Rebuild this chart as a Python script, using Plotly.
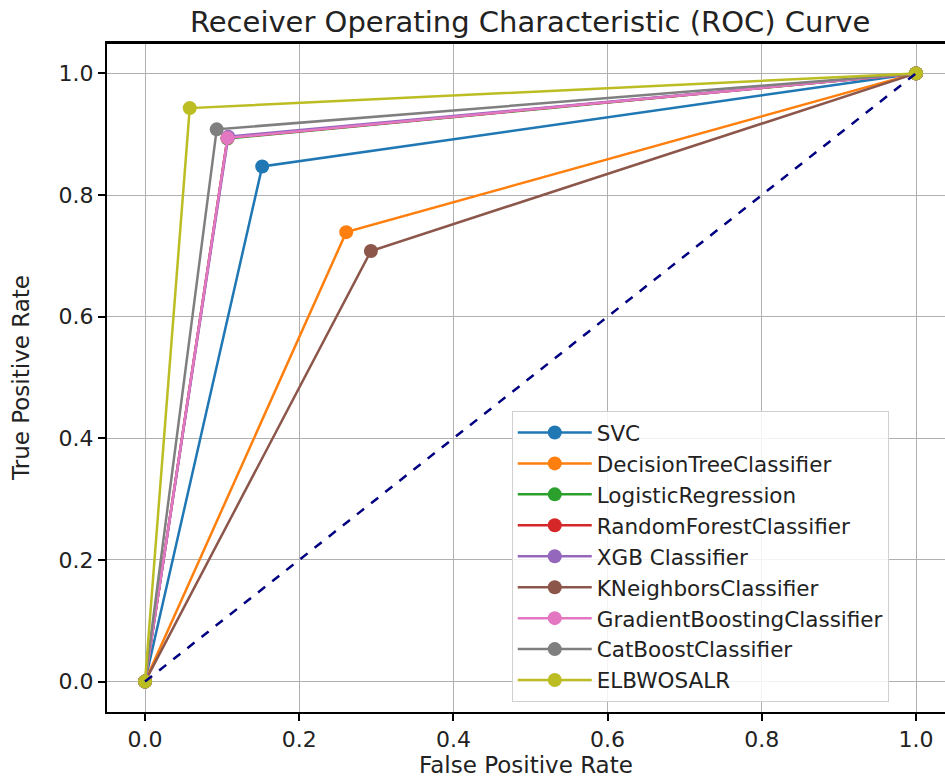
import plotly.graph_objects as go

models = ["SVC", "DecisionTreeClassifier", "LogisticRegression", "RandomForestClassifier",
          "XGB Classifier", "KNeighborsClassifier", "GradientBoostingClassifier",
          "CatBoostClassifier", "ELBWOSALR"]
colors = ["#1f77b4", "#ff7f0e", "#2ca02c", "#d62728", "#9467bd",
          "#8c564b", "#e377c2", "#7f7f7f", "#bcbd22"]
fpr_mid = [0.152, 0.261, 0.107, 0.107, 0.108, 0.293, 0.107, 0.093, 0.058]
tpr_mid = [0.847, 0.739, 0.893, 0.894, 0.896, 0.708, 0.894, 0.908, 0.943]
diag_x = [0, 1]
diag_y = [0, 1]
ticks = [0.0, 0.2, 0.4, 0.6, 0.8, 1.0]

fig = go.Figure()
for name, c, fx, ty in zip(models, colors, fpr_mid, tpr_mid):
    fig.add_trace(go.Scatter(
        x=[0, fx, 1], y=[0, ty, 1], mode="lines+markers", name=name,
        line=dict(color=c, width=2.5), marker=dict(color=c, size=14)))
fig.add_trace(go.Scatter(x=diag_x, y=diag_y, mode="lines", showlegend=False,
                         line=dict(color="navy", width=2.5, dash="dash")))

W, H = 945, 778
fig.update_layout(
    width=W, height=H,
    margin=dict(l=107, r=0, t=43, b=66),
    paper_bgcolor="white", plot_bgcolor="white",
    font=dict(family="DejaVu Sans", color="black"),
    title=dict(text="Receiver Operating Characteristic (ROC) Curve",
               x=0.561, xanchor="center", y=0.972, yanchor="middle",
               font=dict(size=29, color="#222")),
    legend=dict(x=0.483, y=0.015, xanchor="left", yanchor="bottom",
                bgcolor="rgba(255,255,255,0.85)", bordercolor="#d0d0d0", borderwidth=1,
                font=dict(size=21.5, color="#222"), tracegroupgap=0, itemwidth=74),
    showlegend=True,
)
fig.update_xaxes(range=[-0.0493, 1.0376], tickvals=ticks, tickformat=".1f",
                 showgrid=True, gridcolor="#b0b0b0", gridwidth=1, zeroline=False,
                 showline=True, linecolor="black", linewidth=2, mirror=True,
                 ticks="outside", ticklen=7, tickcolor="black", tickwidth=1.5,
                 tickfont=dict(size=22, color="#222"),
                 title=dict(text="False Positive Rate", font=dict(size=23, color="#222"), standoff=2))
fig.update_yaxes(range=[-0.05, 1.05], tickvals=ticks, tickformat=".1f",
                 showgrid=True, gridcolor="#b0b0b0", gridwidth=1, zeroline=False,
                 showline=True, linecolor="black", linewidth=2, mirror=False,
                 ticks="outside", ticklen=7, tickcolor="black", tickwidth=1.5,
                 tickfont=dict(size=22, color="#222"),
                 title=dict(text="True Positive Rate", font=dict(size=23, color="#222"), standoff=23))
# top border line (no right border visible in the reference)
fig.add_shape(type="line", xref="paper", yref="paper", x0=0, x1=1, y0=1, y1=1,
              line=dict(color="black", width=2))
fig.write_html("out.html", config={"displayModeBar": False},
               post_script="document.body.style.margin='0';document.body.style.overflow='hidden';")
